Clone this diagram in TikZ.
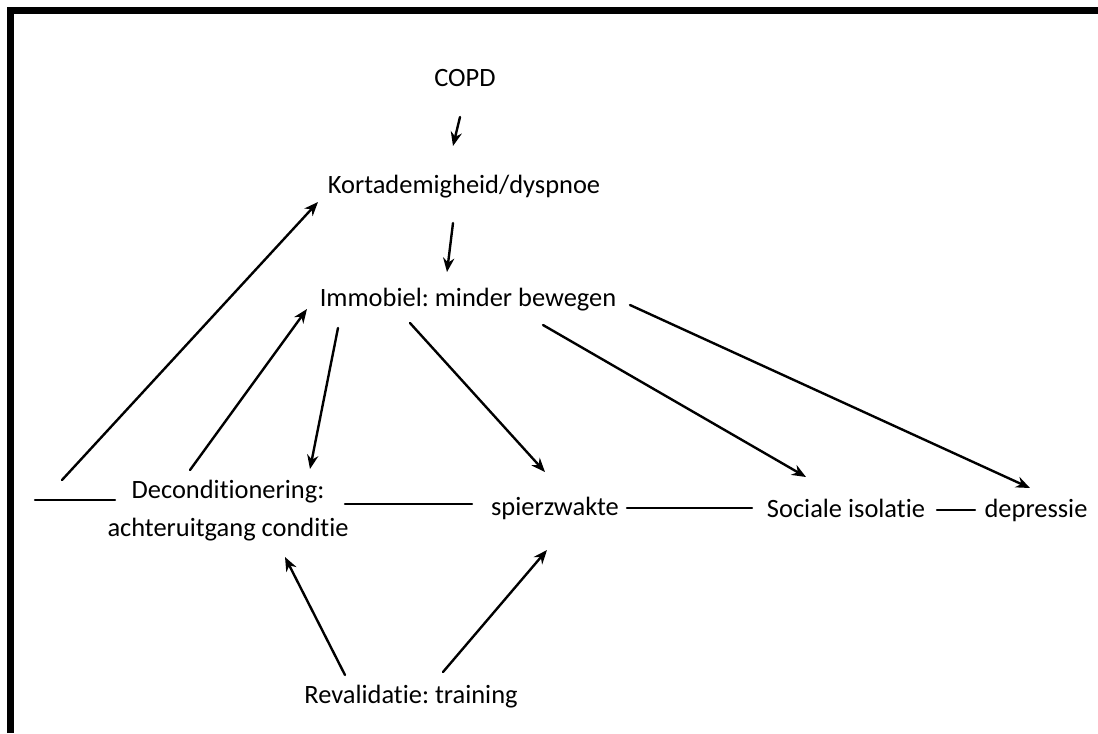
\documentclass[tikz,border=0pt]{standalone}
\usepackage{fontspec}
\setmainfont[Ligatures={NoCommon}]{Carlito}
\usetikzlibrary{arrows.meta,calc}
\frenchspacing

\begin{document}
\begin{tikzpicture}[line cap=round,line join=round,>={Stealth[length=10pt,width=8pt]},x=0.025cm,y=-0.025cm,
  txt/.style={inner sep=0pt,font=\fontsize{18.8}{27}\selectfont,align=center},
  lnk/.style={line width=1.7pt}]
  \useasboundingbox (0,0) rectangle (1098,733);
  % frame (left and top only)
  \draw[line width=5pt,line cap=butt,line join=miter] (10.5,733) -- (10.5,10.5) -- (1098,10.5);
  % nodes
  \node[txt] (copd) at (465,78) {COPD};
  \node[txt] (kort) at (464,187) {Kortademigheid/dyspnoe};
  \node[txt] (immob) at (468,300) {Immobiel: minder bewegen};
  \node[txt] (decond) at (228,511) {Deconditionering:\\achteruitgang conditie};
  \node[txt] (spier) at (555,508) {spierzwakte};
  \node[txt] (soc) at (846,508) {Sociale isolatie};
  \node[txt] (dep) at (1036,510) {depressie};
  \node[txt] (reval) at (411,697) {Revalidatie: training};
  \coordinate (fbend) at (35,500);
  \coordinate (fbup) at (62,480);
  % arrows
  \draw[lnk,->] ($(copd)+(-5,39)$) -- ($(kort)+(-11,-41)$);
  \draw[lnk,->] ($(kort)+(-11,36)$) -- ($(immob)+(-21,-28)$);
  \draw[lnk,->] ($(immob)+(-130,28)$) -- ($(decond)+(82,-42)$);
  \draw[lnk,->] ($(immob)+(-58,23)$) -- ($(spier)+(-10,-36)$);
  \draw[lnk,->] ($(immob)+(75,25)$) -- ($(soc)+(-40,-31)$);
  \draw[lnk,->] ($(immob)+(162,5)$) -- ($(dep)+(-6,-22)$);
  \draw[lnk,->] ($(decond)+(-38,-41)$) -- ($(immob)+(-161,9)$);
  \draw[lnk,->] (fbup) -- ($(kort)+(-146,15)$);
  \draw[lnk,->] ($(reval)+(-66,-22)$) -- ($(decond)+(57,46)$);
  \draw[lnk,->] ($(reval)+(32,-25)$) -- ($(spier)+(-8,42)$);
  % plain links
  \draw[lnk] (fbend) -- ($(decond)+(-113,-11)$);
  \draw[lnk] ($(decond)+(117,-7)$) -- ($(spier)+(-83,-4)$);
  \draw[lnk] ($(spier)+(72,0)$) -- ($(soc)+(-94,0)$);
  \draw[lnk] ($(soc)+(91,2)$) -- ($(dep)+(-61,0)$);
\end{tikzpicture}
\end{document}
